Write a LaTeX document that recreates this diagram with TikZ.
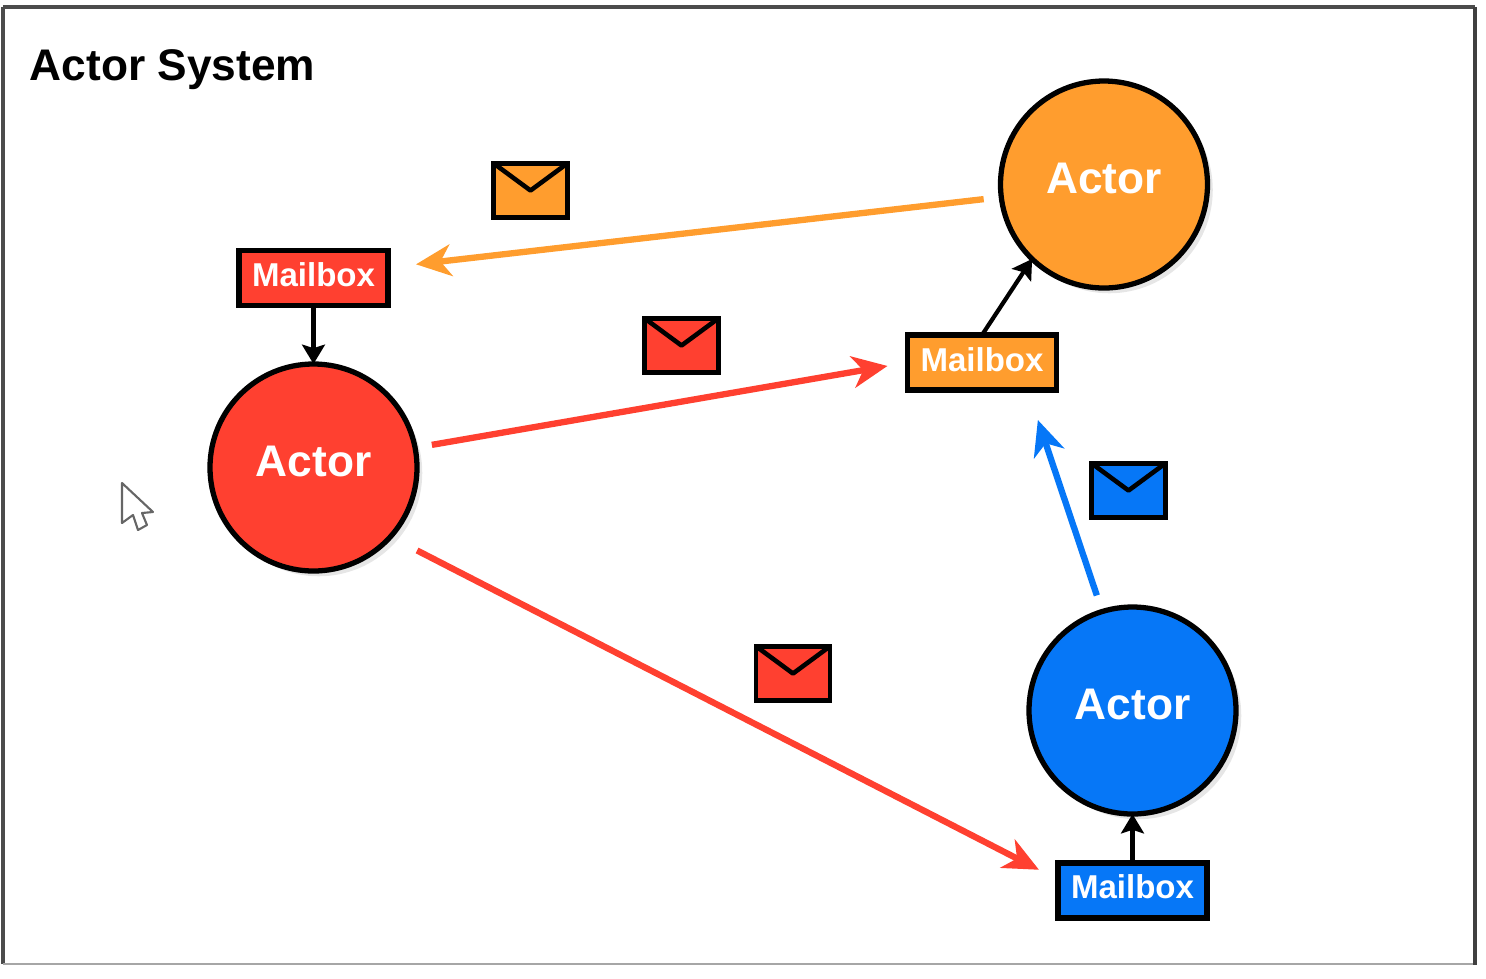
\documentclass[tikz,border=0pt]{standalone}
\usepackage{fontspec}
\setmainfont{Liberation Sans}
\usetikzlibrary{arrows.meta,shadows}
\definecolor{actorred}{HTML}{FF4030}
\definecolor{actororange}{HTML}{FF9D2E}
\definecolor{actorblue}{HTML}{0677F7}
\tikzset{
    actor/.style={circle, draw=black, line width=1.5pt, minimum size=2.07cm, inner sep=0pt, outer sep=0pt,
        text=white, font=\fontsize{12.6}{14}\selectfont\bfseries, text depth=3.4pt,
        drop shadow={shadow xshift=1.5pt, shadow yshift=-1.5pt, opacity=0.2}},
    mailbox/.style={rectangle, draw=black, line width=1.7pt, minimum width=1.49cm, minimum height=0.55cm,
        inner sep=0pt, outer sep=0pt, text=white, font=\fontsize{9.4}{11}\selectfont\bfseries, text depth=1.7pt},
    envelope/.style={rectangle, draw=black, line width=1.4pt, minimum width=0.74cm, minimum height=0.545cm,
        inner sep=0pt, outer sep=0pt},
    flap/.style={line width=1.3pt, line join=round},
    pass/.style={-{Stealth[length=10pt, width=9pt, inset=3pt]}, line width=1.8pt},
    feed/.style={-{Stealth[length=5.5pt, width=6.5pt, inset=1pt]}, line width=1.2pt}
}
\begin{document}
\begin{tikzpicture}
    \useasboundingbox (0,0) rectangle (14.86,-9.78);

    % frame
    \draw[gray!60!black, line width=0.9pt] (0.03,-0.07) -- (14.75,-0.07);
    \draw[gray!60!black, line width=0.9pt] (0.03,-0.07) -- (0.03,-9.64);
    \draw[gray!70, line width=0.4pt] (0.03,-9.64) -- (14.75,-9.64);
    \draw[black!75, line width=1.3pt] (14.75,-0.07) -- (14.75,-9.65);

    % title
    \node[anchor=west, inner sep=0pt, font=\fontsize{12.6}{14}\selectfont\bfseries] (title) at (0.29,-0.70) {Actor System};

    % actors
    \node[actor, fill=actorred] (actorR) at (3.135,-4.675) {Actor};
    \node[actor, fill=actororange] (actorO) at (11.04,-1.845) {Actor};
    \node[actor, fill=actorblue] (actorB) at (11.325,-7.105) {Actor};

    % mailboxes
    \node[mailbox, fill=actorred] (mailR) at (3.135,-2.78) {Mailbox};
    \node[mailbox, fill=actororange] (mailO) at (9.82,-3.625) {Mailbox};
    \node[mailbox, fill=actorblue] (mailB) at (11.325,-8.9) {Mailbox};

    % mailbox to actor
    \draw[feed] (mailR.south) -- (actorR.north);
    \draw[feed] (mailO.north) -- (actorO.226);
    \draw[feed] (mailB.north) -- (actorB.south);

    % messages
    \draw[pass, actororange, shorten <=0.177cm, shorten >=0.282cm] (actorO.187) -- (mailR.8);
    \draw[pass, actorred, shorten <=0.17cm, shorten >=0.203cm] (actorR.11.6) -- (mailO.west);
    \draw[pass, actorred, shorten <=0.30cm, shorten >=0.214cm] (actorR.-42.3) -- (mailB.172.6);
    \draw[pass, actorblue, shorten <=0.17cm, shorten >=0.316cm] (actorB.107.6) -- (mailO.-31);

    % envelopes
    \node[envelope, fill=actororange] (envO) at (5.305,-1.905) {};
    \node[envelope, fill=actorred] (envR) at (6.815,-3.455) {};
    \node[envelope, fill=actorblue] (envB) at (11.285,-4.905) {};
    \node[envelope, fill=actorred] (envS) at (7.93,-6.735) {};
    \draw[flap] (envO.north west) -- (envO.center) -- (envO.north east);
    \draw[flap] (envR.north west) -- (envR.center) -- (envR.north east);
    \draw[flap] (envB.north west) -- (envB.center) -- (envB.north east);
    \draw[flap] (envS.north west) -- (envS.center) -- (envS.north east);

    % cursor
    \draw[black!60, fill=white, line width=0.6pt, line join=round] (1.22,-4.83) -- (1.22,-5.23) -- (1.33,-5.15) -- (1.38,-5.30) -- (1.47,-5.25) -- (1.42,-5.13) -- (1.53,-5.12) -- cycle;
\end{tikzpicture}
\end{document}
